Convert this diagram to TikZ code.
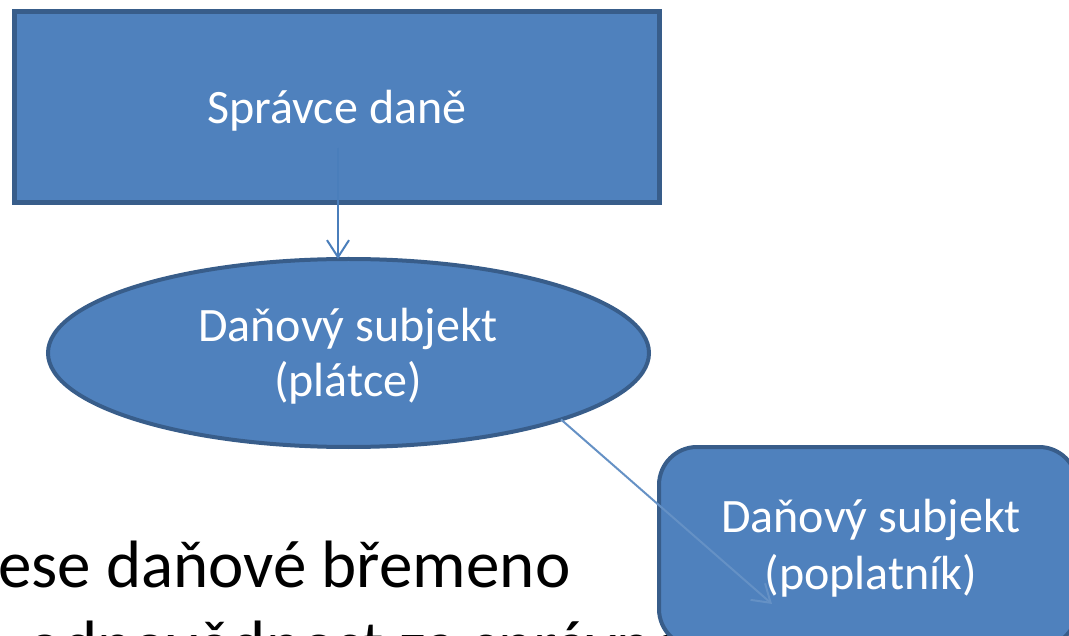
\documentclass[tikz,border=0pt]{standalone}
\usepackage{fontspec}
\setmainfont{Carlito}
\usetikzlibrary{shapes.geometric,arrows.meta}
\definecolor{boxfill}{HTML}{4F81BD}
\definecolor{boxline}{HTML}{385D8A}
\definecolor{connline}{HTML}{4A7EBB}
\tikzset{
  shapebox/.style={fill=boxfill,draw=boxline,inner sep=0pt,outer sep=0pt},
  whitetext/.style={text=white,inner sep=0pt,anchor=base,font=\fontsize{48}{56}\selectfont},
  bigtext/.style={text=black,inner sep=0pt,anchor=base west,font=\fontsize{67}{72}\selectfont},
  conn/.style={draw=connline,line width=2pt,-{Straight Barb[length=17pt,width=22pt,line width=2pt]}}
}
\begin{document}
\begin{tikzpicture}[x=1pt,y=-1pt]
\useasboundingbox (0,0) rectangle (1069,636);
\clip (0,0) rectangle (1069,636);
% background text
\node[bigtext] (t1) at (-2,587) {ese daňové břemeno};
\node[bigtext] (t2) at (27,667) {odpovědnost za správnost};
% shapes
\node[shapebox,rectangle,line width=5pt,minimum width=645pt,minimum height=191pt] (spr) at (337,107) {};
\node[shapebox,ellipse,line width=4pt,minimum width=601pt,minimum height=188pt] (ell) at (348.5,353) {};
\node[shapebox,rectangle,rounded corners=38pt,line width=4pt,minimum width=418pt,minimum height=200pt] (popl) at (868,547) {};
% texts
\node[whitetext] (sprT) at (337,124) {Správce daně};
\node[whitetext] (ellT1) at (348,342) {Daňový subjekt};
\node[whitetext] (ellT2) at (348,396) {(plátce)};
\node[whitetext] (poplT1) at (871,532) {Daňový subjekt};
\node[whitetext] (poplT2) at (871,589) {(poplatník)};
% connectors
\coordinate (a0) at (338,148);
\coordinate (b1) at (772,604);
\draw[conn] (a0) -- (a0 |- ell.north);
\draw[conn,draw=connline!85!white] (ell.south east) -- (b1);
\end{tikzpicture}
\end{document}
